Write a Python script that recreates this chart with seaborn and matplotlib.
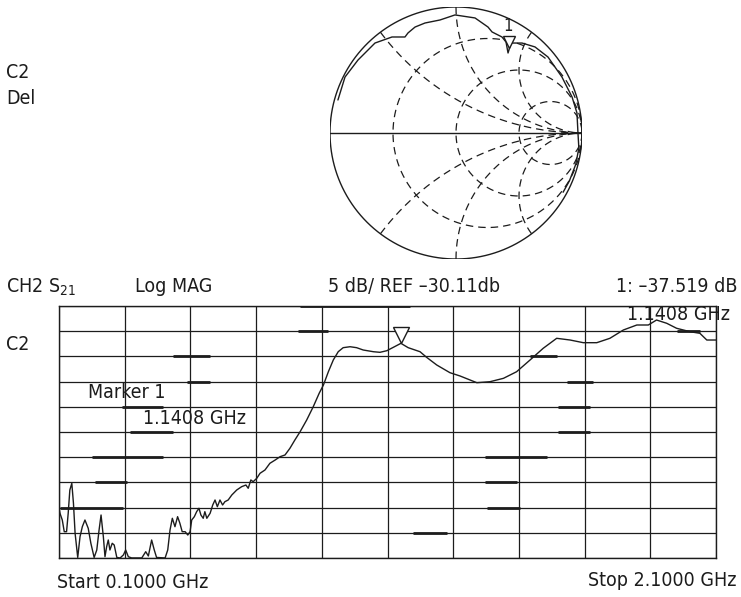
import numpy as np
import pandas as pd
import seaborn as sns
import matplotlib.pyplot as plt
from matplotlib import font_manager
from matplotlib import transforms as mtransforms

# Log MAG trace of S21
freq_ghz = [0.100, 0.103, 0.110, 0.116, 0.123, 0.128, 0.133, 0.139, 0.144, 0.149,
            0.157, 0.164, 0.171, 0.179, 0.189, 0.197, 0.207, 0.215, 0.222, 0.228,
            0.235, 0.240, 0.245, 0.250, 0.255, 0.262, 0.268, 0.276, 0.286, 0.296,
            0.303, 0.311, 0.321, 0.352, 0.364, 0.372, 0.382, 0.390, 0.397, 0.423,
            0.431, 0.438, 0.445, 0.453, 0.461, 0.468, 0.475, 0.484, 0.492, 0.499,
            0.504, 0.512, 0.519, 0.526, 0.532, 0.539, 0.544, 0.550, 0.560, 0.568,
            0.575, 0.582, 0.590, 0.598, 0.605, 0.615, 0.626, 0.641, 0.656, 0.669,
            0.676, 0.684, 0.691, 0.702, 0.712, 0.727, 0.742, 0.758, 0.773, 0.788,
            0.803, 0.818, 0.834, 0.854, 0.874, 0.892, 0.905, 0.920, 0.935, 0.950,
            0.965, 0.986, 1.006, 1.026, 1.057, 1.077, 1.098, 1.118, 1.1408, 1.163,
            1.199, 1.219, 1.250, 1.290, 1.321, 1.372, 1.412, 1.453, 1.493, 1.534,
            1.574, 1.615, 1.656, 1.696, 1.737, 1.777, 1.818, 1.859, 1.894, 1.919,
            1.950, 1.980, 2.021, 2.051, 2.072, 2.100]
mag_db = [-70.25, -71.24, -72.57, -74.89, -74.89, -71.24, -66.62, -65.29, -69.26, -75.21,
          -80.0, -75.88, -73.90, -72.57, -74.22, -77.19, -80.0, -78.52, -74.55, -71.58,
          -75.88, -79.85, -77.87, -76.54, -78.52, -77.19, -77.53, -80.0, -80.1, -79.51,
          -78.52, -79.85, -80.1, -80.1, -78.86, -79.71, -76.54, -78.52, -80.0, -80.1,
          -78.52, -74.55, -72.23, -73.90, -71.91, -73.22, -74.89, -74.89, -75.55, -74.89,
          -72.57, -71.91, -70.92, -70.25, -71.58, -72.23, -70.92, -72.23, -71.24, -69.59,
          -68.60, -69.93, -68.60, -69.59, -68.94, -68.60, -67.61, -66.62, -65.96, -65.63,
          -66.28, -64.63, -64.97, -64.30, -63.30, -62.65, -61.32, -60.67, -60.01, -59.67,
          -58.34, -56.70, -55.05, -52.73, -50.09, -47.43, -45.78, -43.15, -40.82, -39.18,
          -38.38, -38.19, -38.38, -38.84, -39.18, -39.30, -38.98, -38.30, -37.519, -38.38,
          -39.18, -40.29, -41.82, -43.34, -44.00, -45.33, -45.13, -44.46, -43.15, -40.82,
          -38.50, -36.52, -36.86, -37.39, -37.39, -36.52, -34.87, -33.88, -33.88, -32.89,
          -33.54, -34.53, -35.21, -35.53, -36.86, -36.86]

start_ghz, stop_ghz = 0.1, 2.1
ref_db, db_per_div = -30.11, 5
marker_ghz, marker_db = 1.1408, -37.519

# same sweep on the Smith chart (reflection coefficient)
smith_re = [-0.937, -0.881, -0.778, -0.643, -0.508, -0.405, -0.381, -0.325, -0.246, -0.127,
            -0.008, 0.151, 0.254, 0.286, 0.365, 0.397, 0.413, 0.437, 0.524, 0.627,
            0.730, 0.841, 0.921, 0.960, 0.968, 0.975, 0.950, 0.900, 0.850]
smith_im = [0.262, 0.444, 0.579, 0.714, 0.762, 0.762, 0.794, 0.841, 0.873, 0.897,
            0.937, 0.913, 0.841, 0.802, 0.762, 0.722, 0.635, 0.714, 0.714, 0.683,
            0.603, 0.444, 0.286, 0.159, 0.0, -0.12, -0.25, -0.38, -0.47]
smith_marker_re, smith_marker_im = 0.42, 0.72
r_circles = [1 / 3, 1, 3]
x_arcs = [0.5, 1, 2, -0.5, -1, -2]

# heavier pieces of the graticule (division from top, start / stop in GHz)
heavy_div = [0, 1, 1, 2, 2, 3, 3, 4, 4, 5, 5, 6, 6, 7, 7, 8, 8, 9]
heavy_from = [0.834, 0.828, 1.981, 0.447, 1.534, 0.490, 1.646, 0.292, 1.619, 0.316,
              1.619, 0.200, 1.397, 0.210, 1.397, 0.103, 1.403, 1.178]
heavy_to = [1.168, 0.919, 2.051, 0.560, 1.616, 0.560, 1.726, 0.417, 1.716, 0.447,
            1.716, 0.417, 1.586, 0.307, 1.494, 0.295, 1.503, 1.281]

sns.set_style("white")
# narrow instrument-style lettering: condensed DejaVu if it is there, else Roboto
fonts = font_manager.fontManager.ttflist
names = {f.name for f in fonts}
has_cond = any(f.name == 'DejaVu Sans' and f.stretch in ('condensed', 'semi-condensed')
               for f in fonts)
if 'Liberation Sans Narrow' in names:
    plt.rcParams['font.family'] = ['Liberation Sans Narrow', 'DejaVu Sans']
    fs = 15
elif has_cond:
    plt.rcParams['font.family'] = ['DejaVu Sans']
    plt.rcParams['font.stretch'] = 'condensed'
    fs = 14
else:
    plt.rcParams['font.family'] = ['Roboto', 'DejaVu Sans']
    fs = 14
ink = '#1c1c1c'

W, H = 741, 597
fig = plt.figure(figsize=(W / 100, H / 100), dpi=100)

def px(x, y):
    return x / W, 1 - y / H

# ---- lower panel: Log MAG ----
ax = fig.add_axes([59 / W, 39 / H, 657 / W, 252 / H])
df = pd.DataFrame({'freq': freq_ghz, 'mag': mag_db})
sns.lineplot(data=df, x='freq', y='mag', ax=ax, color=ink, lw=1.0)
bottom_db = ref_db - 10 * db_per_div
ax.set_xlim(start_ghz, stop_ghz)
ax.set_ylim(bottom_db, ref_db)
ax.set_xticks(np.linspace(start_ghz, stop_ghz, 11))
ax.set_yticks(np.linspace(bottom_db, ref_db, 11))
ax.grid(True, color=ink, lw=0.9)
ax.tick_params(length=0, labelbottom=False, labelleft=False)
ax.set_xlabel('')
ax.set_ylabel('')
for s in ax.spines.values():
    s.set_color(ink)
    s.set_linewidth(1.0)
for d, f0, f1 in zip(heavy_div, heavy_from, heavy_to):
    ax.plot([f0, f1], [ref_db - d * db_per_div] * 2, color=ink, lw=2.0,
            solid_capstyle='butt')
up = mtransforms.offset_copy(ax.transData, fig=fig, y=6, units='points')
ax.plot([marker_ghz], [marker_db], marker='v', ms=11, mfc='white', mec=ink,
        mew=1.0, transform=up, clip_on=False)

# ---- upper panel: Smith chart ----
axs = fig.add_axes([330 / W, 338 / H, 252 / W, 252 / H])
axs.set_xlim(-1.0, 1.0)
axs.set_ylim(-1.0, 1.0)
axs.axis('off')
t = np.linspace(0, 2 * np.pi, 500)
axs.plot(np.cos(t), np.sin(t), color=ink, lw=1.0)
axs.axhline(0, color=ink, lw=1.0)
dash = (0, (6, 4))
for r in r_circles:
    xs = np.tan(np.linspace(-np.pi / 2 + 1e-3, np.pi / 2 - 1e-3, 600))
    g = (r + 1j * xs - 1) / (r + 1j * xs + 1)
    axs.plot(g.real, g.imag, color=ink, lw=0.9, ls=dash)
for xv in x_arcs:
    rs = np.tan(np.linspace(0, np.pi / 2 - 1e-3, 600))
    g = (rs + 1j * xv - 1) / (rs + 1j * xv + 1)
    axs.plot(g.real, g.imag, color=ink, lw=0.9, ls=dash)
sm = pd.DataFrame({'re': smith_re, 'im': smith_im})
sns.lineplot(data=sm, x='re', y='im', ax=axs, sort=False, estimator=None,
             color=ink, lw=1.0)
axs.plot([smith_marker_re], [smith_marker_im], marker='v', ms=9, mfc='white',
         mec=ink, mew=1.0)
axs.text(smith_marker_re - 0.01, smith_marker_im + 0.06, '1', ha='center',
         va='bottom', fontsize=12, color=ink)

# ---- screen annotations ----
def label(x, y, s, ha='left', size=None):
    fig.text(*px(x, y), s, ha=ha, va='center', fontsize=size or fs, color=ink)

label(6, 72, 'C2')
label(6, 99, 'Del')
label(6, 287, r'CH2 S$_\mathregular{21}$')
label(135, 287, 'Log MAG')
label(328, 287, '5 dB/ REF \u201330.11db')
label(738, 287, '1: \u201337.519 dB', ha='right')
label(730, 315, '1.1408 GHz', ha='right')
label(6, 345, 'C2')
label(88, 392, 'Marker 1')
label(143, 419, '1.1408 GHz')
label(57, 583, 'Start 0.1000 GHz')
label(737, 580, 'Stop 2.1000 GHz', ha='right')

fig.savefig('out.png', dpi=100)
